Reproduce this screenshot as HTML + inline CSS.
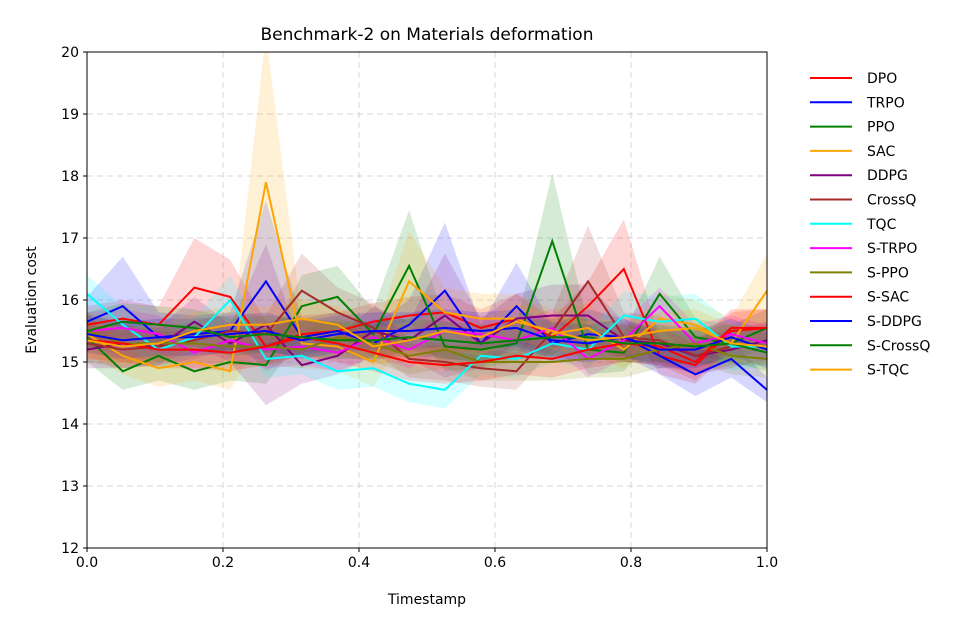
<!DOCTYPE html>
<html><head><meta charset="utf-8"><style>
body{margin:0;background:#fff;font-family:"Liberation Sans","DejaVu Sans",sans-serif;}
svg text{font-family:"DejaVu Sans","Liberation Sans",sans-serif;}
</style></head><body>
<svg id="chart" width="980" height="630" xmlns="http://www.w3.org/2000/svg">
<rect width="980" height="630" fill="#fff"/>
<g id="grid"></g><g id="bands"></g><g id="lines"></g><g id="axes"></g><g id="legend"></g>
</svg>
<script>
const names=["DPO","TRPO","PPO","SAC","DDPG","CrossQ","TQC","S-TRPO","S-PPO","S-SAC","S-DDPG","S-CrossQ","S-TQC"];
const colors=["#ff0000","#0000ff","#008000","#ffa500","#800080","#a52a2a","#00ffff","#ff00ff","#808000","#ff0000","#0000ff","#008000","#ffa500"];
const dpo=[15.6,15.7,15.6,16.2,16.05,15.25,15.45,15.5,15.65,15.75,15.8,15.55,15.7,15.4,15.9,16.5,15.1,14.95,15.5,15.55];
const trpo=[15.65,15.9,15.4,15.45,15.5,16.3,15.4,15.5,15.3,15.6,16.15,15.3,15.9,15.3,15.45,15.4,15.1,14.8,15.05,14.55];
const ppo=[15.4,14.85,15.1,14.85,15.0,14.95,15.9,16.05,15.45,16.55,15.25,15.2,15.3,16.95,15.2,15.15,16.1,15.4,15.3,15.55];
const sac=[15.45,15.1,14.9,15.0,14.85,17.9,15.3,15.25,15.0,16.3,15.8,15.7,15.7,15.45,15.55,15.2,15.7,15.6,15.3,16.15];
const ddpg=[15.2,15.3,15.25,15.65,15.3,15.6,14.95,15.1,15.5,15.35,15.75,15.3,15.7,15.75,15.75,15.35,15.3,15.1,15.2,15.35];
const crossq=[15.3,15.2,15.25,15.35,15.5,15.45,16.15,15.8,15.55,15.05,15.0,14.9,14.85,15.5,16.3,15.4,15.35,15.1,15.25,15.25];
const tqc=[16.1,15.6,15.2,15.4,16.0,15.05,15.1,14.85,14.9,14.65,14.55,15.1,15.05,15.3,15.2,15.75,15.65,15.7,15.25,15.25];
const strpo=[15.5,15.55,15.45,15.15,15.35,15.2,15.25,15.15,15.4,15.2,15.5,15.45,15.35,15.55,15.05,15.35,15.9,15.3,15.45,15.3];
const sppo=[15.5,15.3,15.3,15.3,15.25,15.25,15.2,15.4,15.3,15.1,15.2,15.0,15.0,15.0,15.05,15.05,15.2,15.3,15.1,15.05];
const ssac=[15.35,15.3,15.2,15.2,15.15,15.25,15.4,15.3,15.15,15.0,14.95,15.0,15.1,15.05,15.2,15.3,15.25,15.0,15.55,15.55];
const sddpg=[15.45,15.35,15.4,15.4,15.45,15.5,15.35,15.45,15.5,15.5,15.55,15.5,15.55,15.35,15.3,15.4,15.2,15.2,15.4,15.2];
const scrossq=[15.5,15.65,15.6,15.55,15.4,15.45,15.4,15.35,15.35,15.4,15.35,15.3,15.35,15.4,15.4,15.3,15.3,15.25,15.3,15.15];
const stqc=[15.35,15.25,15.3,15.5,15.6,15.6,15.7,15.6,15.25,15.35,15.5,15.4,15.65,15.5,15.35,15.4,15.5,15.55,15.3,15.25];
const series=[dpo,trpo,ppo,sac,ddpg,crossq,tqc,strpo,sppo,ssac,sddpg,scrossq,stqc];
const spread=[
[0.3,0.3,0.3,0.8,0.6,0.4,0.3,0.3,0.3,0.3,0.3,0.3,0.4,0.3,0.4,0.8,0.3,0.3,0.3,0.3],
[0.4,0.8,0.4,0.3,0.3,1.3,0.3,0.3,0.3,0.4,1.1,0.3,0.7,0.3,0.4,0.3,0.3,0.35,0.3,0.2],
[0.4,0.3,0.4,0.3,0.3,0.3,0.5,0.5,0.4,0.9,0.4,0.3,0.3,1.1,0.4,0.3,0.6,0.3,0.3,0.3],
[0.3,0.3,0.3,0.3,0.3,2.4,0.4,0.4,0.4,0.8,0.4,0.4,0.4,0.4,0.4,0.3,0.4,0.4,0.4,0.6],
[0.3,0.4,0.3,0.4,0.3,1.3,0.3,0.3,0.4,0.3,1.0,0.4,0.4,0.5,0.5,0.3,0.3,0.3,0.3,0.3],
[0.3,0.3,0.3,0.3,0.3,0.3,0.6,0.4,0.4,0.3,0.3,0.3,0.3,0.3,0.9,0.4,0.4,0.3,0.3,0.3],
[0.3,0.3,0.3,0.3,0.4,0.3,0.3,0.3,0.3,0.3,0.3,0.3,0.3,0.3,0.3,0.4,0.4,0.4,0.4,0.3],
[0.3,0.3,0.3,0.3,0.3,0.3,0.3,0.3,0.3,0.3,0.3,0.3,0.3,0.3,0.3,0.3,0.3,0.3,0.3,0.3],
[0.3,0.3,0.3,0.3,0.3,0.3,0.3,0.3,0.3,0.3,0.3,0.3,0.3,0.3,0.3,0.3,0.3,0.3,0.3,0.3],
[0.3,0.3,0.3,0.3,0.3,0.3,0.3,0.3,0.3,0.3,0.3,0.3,0.3,0.3,0.3,0.3,0.3,0.3,0.3,0.3],
[0.3,0.3,0.3,0.3,0.3,0.3,0.3,0.3,0.3,0.3,0.3,0.3,0.3,0.3,0.3,0.3,0.3,0.3,0.3,0.3],
[0.3,0.3,0.3,0.3,0.3,0.3,0.3,0.3,0.3,0.3,0.3,0.3,0.3,0.3,0.3,0.3,0.3,0.3,0.3,0.3],
[0.3,0.3,0.3,0.3,0.3,0.3,0.3,0.3,0.3,0.3,0.3,0.3,0.3,0.3,0.3,0.3,0.3,0.3,0.3,0.3]];
const xTicks=[0,0.2,0.4,0.6,0.8,1.0];
const xTickLabels=["0.0","0.2","0.4","0.6","0.8","1.0"];
const yTicks=[12,13,14,15,16,17,18,19,20];

const L=87,R=767,T=52,B=548;
const xs=v=>L+v*(R-L);
const ys=v=>B-(v-12)/8*(B-T);
const NS="http://www.w3.org/2000/svg";
function mk(tag,attrs,parent,text){const e=document.createElementNS(NS,tag);for(const k in attrs)e.setAttribute(k,attrs[k]);if(text!==undefined)e.textContent=text;parent.appendChild(e);return e;}
const g=document.getElementById('grid'),gb=document.getElementById('bands'),gl=document.getElementById('lines'),ga=document.getElementById('axes'),lg=document.getElementById('legend');
const clip=mk('clipPath',{id:'pc'},document.getElementById('chart'));
mk('rect',{x:L,y:T,width:R-L,height:B-T},clip);
gb.setAttribute('clip-path','url(#pc)');gl.setAttribute('clip-path','url(#pc)');
xTicks.forEach((t,i)=>{
 const l=mk('line',{x1:xs(t),x2:xs(t),y1:T,y2:B,stroke:'#b0b0b0','stroke-opacity':0.5,'stroke-dasharray':'6,4'},g);
 
 mk('line',{x1:xs(t),x2:xs(t),y1:B,y2:B+4,stroke:'#000'},ga);
 const tx=mk('text',{x:xs(t),y:B+19,'text-anchor':'middle','font-size':14},ga,xTickLabels[i]);
 
});
yTicks.forEach(t=>{
 const l=mk('line',{x1:L,x2:R,y1:ys(t),y2:ys(t),stroke:'#b0b0b0','stroke-opacity':0.5,'stroke-dasharray':'6,4'},g);
 
 mk('line',{x1:L-4,x2:L,y1:ys(t),y2:ys(t),stroke:'#000'},ga);
 const tx=mk('text',{x:L-8,y:ys(t)+5,'text-anchor':'end','font-size':14},ga,String(t));
 
});
series.forEach((s,k)=>{
 const n=s.length,X=i=>xs(i/(n-1));
 let up=s.map((v,i)=>X(i)+','+ys(v+spread[k][i])),dn=s.map((v,i)=>X(i)+','+ys(v-spread[k][i])).reverse();
 const b=mk('polygon',{points:up.concat(dn).join(' '),fill:colors[k],'fill-opacity':0.16},gb);
 
});
series.forEach((s,k)=>{
 const n=s.length;
 const p=mk('polyline',{points:s.map((v,i)=>xs(i/(n-1))+','+ys(v)).join(' '),fill:'none',stroke:colors[k],'stroke-width':2},gl);
 
});
const fr=mk('rect',{x:L,y:T,width:R-L,height:B-T,fill:'none',stroke:'#000','stroke-width':1},ga);

const ti=mk('text',{x:427,y:40,'text-anchor':'middle','font-size':17},ga,'Benchmark-2 on Materials deformation');

const xt=mk('text',{x:427,y:604,'text-anchor':'middle','font-size':14},ga,'Timestamp');

const yt=mk('text',{x:36,y:300,'text-anchor':'middle','font-size':14,transform:'rotate(-90 36 300)'},ga,'Evaluation cost');

names.forEach((nm,k)=>{
 const y=78+k*24.3;
 const e=mk('g',{},lg);
 
 mk('line',{x1:810,x2:852,y1:y,y2:y,stroke:colors[k],'stroke-width':2},e);
 mk('text',{x:867,y:y+5,'font-size':14},e,nm);
});
</script>
</body></html>
